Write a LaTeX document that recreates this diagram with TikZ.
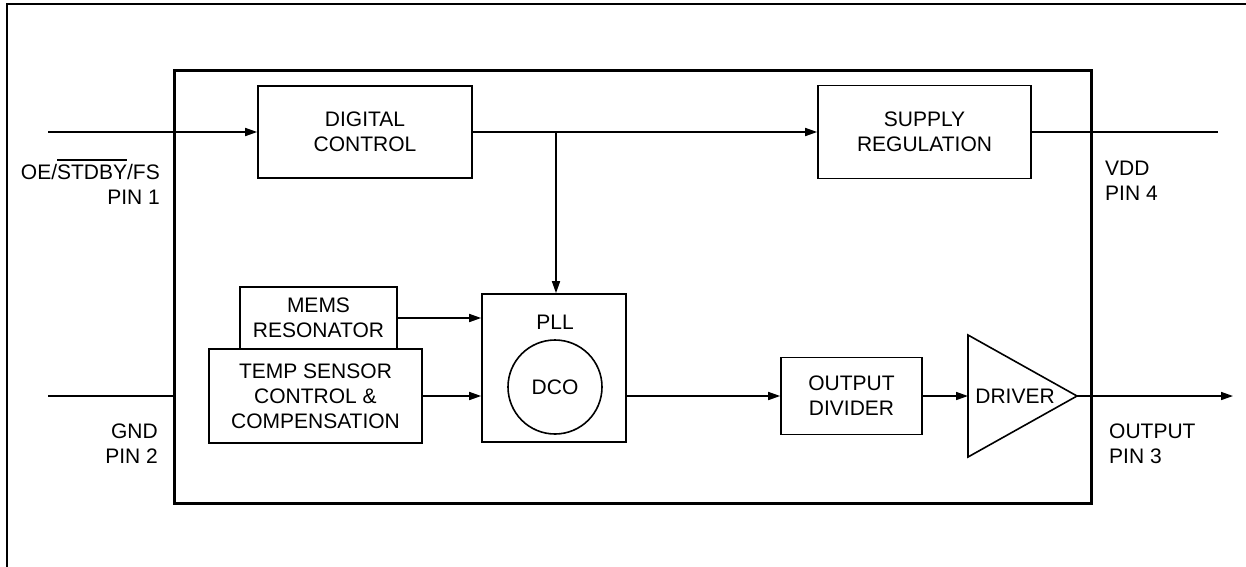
\documentclass[tikz,border=0pt]{standalone}
\usepackage{fontspec}
\setmainfont{Liberation Sans}
\usetikzlibrary{arrows.meta}
% bar drawn over a signal name (active-low)
\newcommand\activelow[1]{\vbox{\hrule height 1.8pt\kern 4pt\hbox{#1}}}
\begin{document}
\begin{tikzpicture}[x=1pt,y=-1pt,
  blk/.style={draw, line width=1.6pt, inner sep=0pt, align=center,
              font=\fontsize{21}{25}\selectfont},
  wire/.style={line width=1.6pt},
  arr/.style={wire, -{Triangle[length=12pt,width=8pt]}},
  lbl/.style={inner sep=0pt, font=\fontsize{21}{25}\selectfont}]

\useasboundingbox (0,0) rectangle (1246,566);

% outer frame (top and left edges)
\draw[line width=2.8pt] (7,570) -- (7,4) -- (1250,4);

% chip outline
\node[draw, line width=3pt, inner sep=0pt, minimum width=917pt, minimum height=433pt]
  (chip) at (632.5,286.5) {};

% blocks
\node[blk, minimum width=214pt, minimum height=92pt] (dig) at (365,132) {DIGITAL\\CONTROL};
\node[blk, minimum width=213pt, minimum height=93pt] (sup) at (924.5,132) {SUPPLY\\REGULATION};
\node[blk, minimum width=144pt, minimum height=148pt] (pll) at (554,368) {};
\node[lbl] (plllbl) at (555,322) {PLL};
\node[blk, circle, minimum size=94pt] (dco) at (555,387) {DCO};
\node[blk, minimum width=157pt, minimum height=62pt] (mems) at (318.5,318) {MEMS\\RESONATOR};
\node[blk, minimum width=213pt, minimum height=94pt] (temp) at (315.5,396) {TEMP SENSOR\\CONTROL \&\\COMPENSATION};
\node[blk, minimum width=141pt, minimum height=77pt] (div) at (851.5,396) {OUTPUT\\DIVIDER};

% output driver (triangle)
\coordinate (drvtop) at (968,335);
\coordinate (drvbot) at (968,457);
\coordinate (drvout) at (1077,396);
\coordinate (drvin) at (968,396);
\draw[line width=1.6pt, line join=miter] (drvtop) -- (drvbot) -- (drvout) -- cycle;
\node[lbl] (drvlbl) at (1015,396) {DRIVER};

% pins
\coordinate (pin1) at (48,132);
\coordinate (pin2) at (48,396);
\coordinate (pin3) at (1233,396);
\coordinate (pin4) at (1218,132);
\coordinate (tap) at (556,132);

% connections
\draw[arr] (pin1) -- (dig.west);
\draw[arr] (dig.east) -- (sup.west);
\draw[wire] (sup.east) -- (pin4);
\draw[arr] (tap) -- (tap |- pll.north);
\draw[arr] (mems.east) -- (mems.east -| pll.west);
\draw[arr] (temp.east) -- (temp.east -| pll.west);
\draw[wire] (pin2) -- (pin2 -| chip.west);
\draw[arr] (pll.east |- div.west) -- (div.west);
\draw[arr] (div.east) -- (drvin);
\draw[arr] (drvout) -- (pin3);

% pin labels
\node[lbl, align=right, anchor=east] (l1) at (160,181.5) {OE/\activelow{STDBY}/FS\\PIN 1};
\node[lbl, align=right, anchor=east] (l2) at (158,443.5) {GND\\PIN 2};
\node[lbl, align=left, anchor=west] (l4) at (1105,181) {VDD\\PIN 4};
\node[lbl, align=left, anchor=west] (l3) at (1109,444) {OUTPUT\\PIN 3};
\end{tikzpicture}
\end{document}
